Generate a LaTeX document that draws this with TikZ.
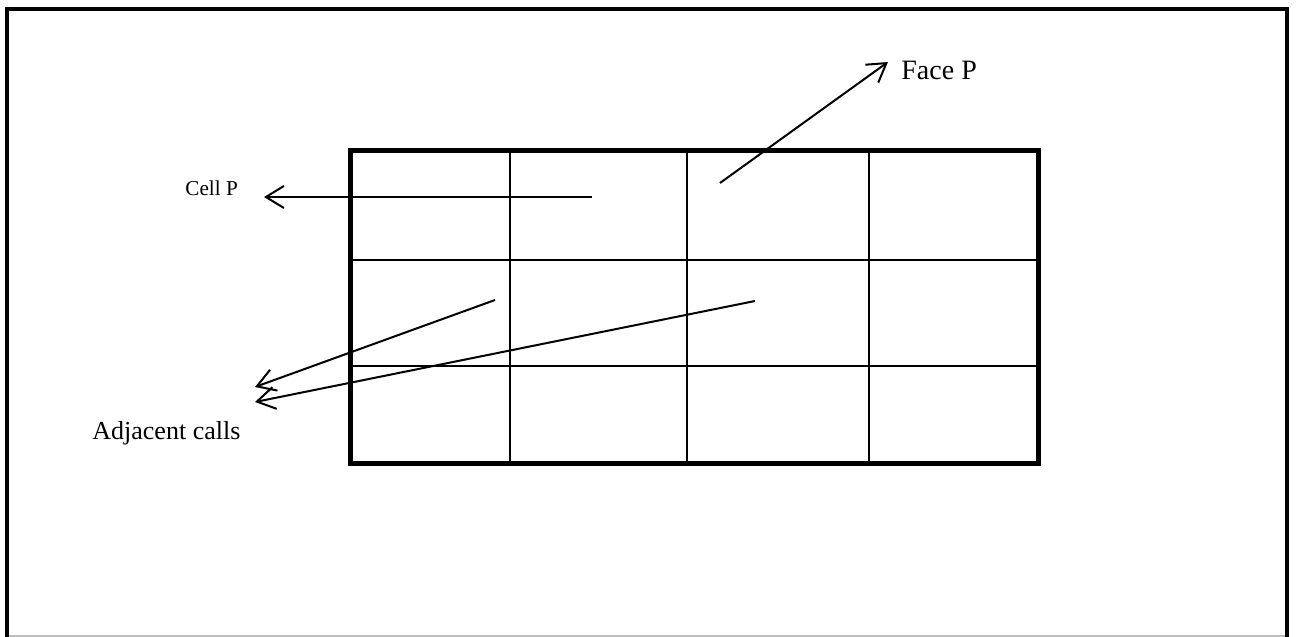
\documentclass[tikz,border=0pt]{standalone}
\usepackage{fontspec}
\setmainfont{Liberation Serif}
\usetikzlibrary{arrows.meta}
\definecolor{edgegray}{RGB}{190,190,190}

\begin{document}
\begin{tikzpicture}[x=0.5pt,y=-0.5pt,
  gridline/.style={line width=1pt},
  pointer/.style={line width=1pt,-{Straight Barb[length=9pt,width=11pt]}},
  tag/.style={inner sep=0pt,anchor=base west}]
  \useasboundingbox (0,0) rectangle (1297,637);
  \draw[edgegray,line width=0.75pt] (7,636)--(1287,636);
  \draw[line width=2pt] (7,637)--(7,9)--(1287,9)--(1287,637);
  \foreach \gx in {510,687,869} \draw[gridline] (\gx,150)--(\gx,463);
  \foreach \gy in {260,366} \draw[gridline] (350,\gy)--(1038,\gy);
  \draw[line width=2.5pt] (350,150) rectangle (1038,463);
  \node[tag,font=\fontsize{10.6pt}{12pt}\selectfont] (cellp) at (185,195) {Cell P};
  \node[tag,font=\fontsize{14pt}{16pt}\selectfont] (facep) at (901,79) {Face P};
  \node[tag,font=\fontsize{13pt}{15pt}\selectfont] (adjacent) at (92,439) {Adjacent calls};
  \coordinate (cellp-from) at (592,197);
  \coordinate (cellp-to) at (264,197);
  \coordinate (facep-from) at (720,183);
  \coordinate (facep-to) at (888,62);
  \coordinate (adj1-from) at (495,300);
  \coordinate (adj1-to) at (255,387);
  \coordinate (adj2-from) at (755,301);
  \coordinate (adj2-to) at (255,402);
  \draw[pointer] (cellp-from)--(cellp-to);
  \draw[pointer] (facep-from)--(facep-to);
  \draw[pointer] (adj1-from)--(adj1-to);
  \draw[pointer] (adj2-from)--(adj2-to);
\end{tikzpicture}
\end{document}
